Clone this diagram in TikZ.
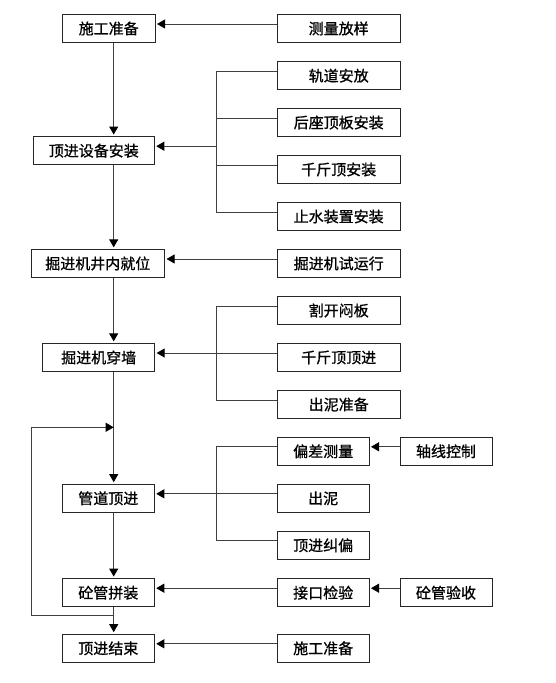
\documentclass[tikz,border=0pt]{standalone}
\usepackage{fontspec}
\setmainfont[FakeBold=0.9]{Noto Sans CJK SC}
\usetikzlibrary{arrows.meta}
\begin{document}
\begin{tikzpicture}[x=1pt,y=-1pt,
  box/.style={draw=black!85, line width=0.9pt, minimum height=28.4pt, inner sep=0pt,
    font=\fontsize{15}{16}\selectfont},
  lbox/.style={box, minimum width=122.7pt},
  sbox/.style={box, minimum width=92pt},
  ln/.style={draw=black!75, line width=0.9pt},
  arr/.style={ln, -{Triangle[length=8pt,width=9pt,color=black]}, shorten >=1.5pt}]
\useasboundingbox[fill=white] (0,0) rectangle (555,683);
% main column
\node[box, minimum width=92.7pt] (n1) at (108.7,28.5) {施工准备};
\node[box, minimum width=121pt] (n2) at (93.8,150.7) {顶进设备安装};
\node[box, minimum width=133.7pt] (n3) at (97.8,263.5) {掘进机井内就位};
\node[box, minimum width=112pt] (n4) at (98.7,357.5) {掘进机穿墙};
\node[sbox] (n5) at (108.3,498.3) {管道顶进};
\node[sbox] (n6) at (108.3,592.7) {砼管拼装};
\node[sbox] (n7) at (108.3,648.3) {顶进结束};
% right column
\node[lbox] (r1) at (338.7,28.5) {测量放样};
\node[lbox] (r2a) at (338.7,75.7) {轨道安放};
\node[lbox] (r2b) at (338.7,122.5) {后座顶板安装};
\node[lbox] (r2c) at (338.7,169.5) {千斤顶安装};
\node[lbox] (r2d) at (338.7,216.5) {止水装置安装};
\node[lbox] (r3) at (338.7,263.5) {掘进机试运行};
\node[lbox] (r4a) at (338.7,310.5) {割开闷板};
\node[lbox] (r4b) at (338.7,357.5) {千斤顶顶进};
\node[lbox] (r4c) at (338.7,404.5) {出泥准备};
\node[sbox, minimum width=91.7pt] (r5a) at (323.2,451.3) {偏差测量};
\node[sbox, minimum width=91.7pt] (r5b) at (323.2,498.3) {出泥};
\node[sbox, minimum width=91.7pt] (r5c) at (323.2,545.3) {顶进纠偏};
\node[sbox, minimum width=91.7pt] (r6) at (323.2,592.7) {接口检验};
\node[sbox, minimum width=91.7pt] (r7) at (323.2,648.3) {施工准备};
\node[sbox] (s5) at (446,451.3) {轴线控制};
\node[sbox] (s6) at (446,592.7) {砼管验收};
% helper coordinates
\coordinate (sp) at (113.7,0);
\coordinate (bx) at (216,0);
\coordinate (lp) at (31.7,0);
\foreach \n in {n1,n2,n3,n4,n5,n6,n7,r1,r2a,r2b,r2c,r2d,r3,r4a,r4b,r4c,r5a,r5b,r5c,r6,r7,s5,s6}{
  \coordinate (\n w) at ([yshift=4.5pt]\n.west);
  \coordinate (\n e) at ([yshift=4.5pt]\n.east);
}
% spine
\draw[arr] (n1.south -| sp) -- (n2.north -| sp);
\draw[arr] (n2.south -| sp) -- (n3.north -| sp);
\draw[arr] (n3.south -| sp) -- (n4.north -| sp);
\draw[arr] (n4.south -| sp) -- (n5.north -| sp);
\draw[arr] (n5.south -| sp) -- (n6.north -| sp);
\draw[arr] (n6.south -| sp) -- (n7.north -| sp);
% loop
\coordinate (lb) at (113.7,615.3);
\coordinate (lt) at (113.7,427.3);
\draw[arr, shorten >=0pt] (lb) -| (lp |- lt) -- (lt);
% single horizontal arrows
\draw[arr] (r1w) -- (n1e);
\draw[arr] (r3w) -- (n3e);
\draw[arr] (r6w) -- (n6e);
\draw[arr] (r7w) -- (n7e);
\draw[arr] (s5w) -- (r5ae);
\draw[arr] (s6w) -- (r6e);
% brackets
\draw[ln] (r2aw) -| (bx |- r2dw) -- (r2dw);
\draw[ln] (r2bw) -- (bx |- r2bw);
\draw[ln] (r2cw) -- (bx |- r2cw);
\draw[arr] (bx |- n2e) -- (n2e);
\draw[ln] (r4aw) -| (bx |- r4cw) -- (r4cw);
\draw[arr] (r4bw) -- (n4e);
\draw[ln] (r5aw) -| (bx |- r5cw) -- (r5cw);
\draw[arr] (r5bw) -- (n5e);
\end{tikzpicture}
\end{document}
